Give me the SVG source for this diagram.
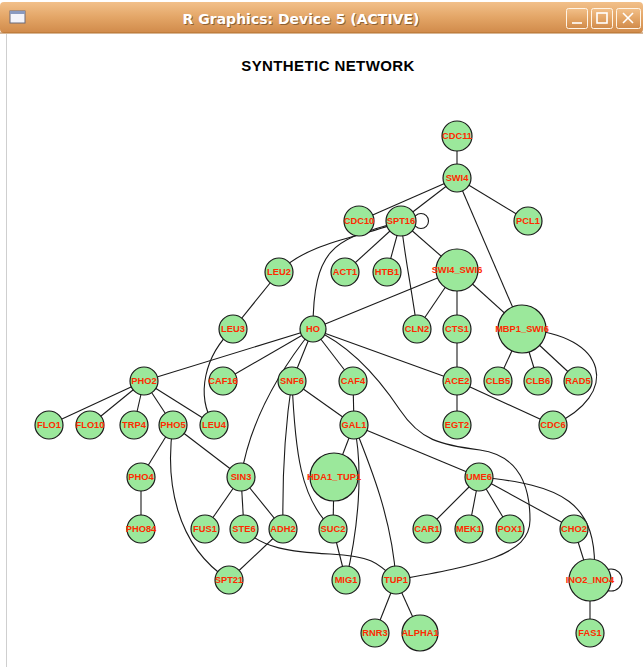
<svg xmlns="http://www.w3.org/2000/svg" width="643" height="667" viewBox="0 0 643 667">
<defs>
<linearGradient id="bar" x1="0" y1="0" x2="0" y2="1">
<stop offset="0" stop-color="#F2C08A"/>
<stop offset="0.5" stop-color="#E3A566"/>
<stop offset="1" stop-color="#D08A4A"/>
</linearGradient>
<style>
.node circle{fill:#9BE89B;stroke:#1a1a1a;stroke-width:1.2}
.node text{font-family:"Liberation Sans",Arial,sans-serif;font-size:9.3px;font-weight:bold;fill:#FF2A00;text-anchor:middle;dominant-baseline:central}
#edges line,#edges path,#edges circle{stroke:#1a1a1a;stroke-width:1.1;fill:none}
.btn{fill:url(#bar);stroke:#FFF4E6;stroke-width:1}
.glyph{stroke:#FFFFFF;stroke-width:1.6;fill:none}
</style>
</defs>
<rect x="0" y="0" width="643" height="667" fill="#FFFFFF"/>
<g id="window-chrome">
<rect x="0" y="2" width="643" height="31" rx="4" fill="url(#bar)"/>
<line x1="0" y1="33" x2="643" y2="33" stroke="#B07030" stroke-width="1"/>
<line x1="6.5" y1="34" x2="6.5" y2="667" stroke="#CFCFCF" stroke-width="1"/>
<rect x="10" y="11" width="15" height="12" fill="#F4F4FA" stroke="#6A6A7A" stroke-width="1"/>
<rect x="10" y="11" width="15" height="3" fill="#8A9AC0"/>
<text x="301" y="24" font-family="'DejaVu Sans',sans-serif" font-weight="bold" font-size="14" fill="#5A3A1A" text-anchor="middle" opacity="0.6" transform="translate(1,1)">R Graphics: Device 5 (ACTIVE)</text>
<text x="301" y="24" font-family="'DejaVu Sans',sans-serif" font-weight="bold" font-size="14" fill="#FFFFFF" text-anchor="middle">R Graphics: Device 5 (ACTIVE)</text>
<rect class="btn" x="566.5" y="8.5" width="21" height="20" rx="2"/>
<line class="glyph" x1="572" y1="23" x2="582" y2="23"/>
<rect class="btn" x="591.5" y="8.5" width="21" height="20" rx="2"/>
<rect class="glyph" x="597" y="13" width="10" height="10"/>
<rect class="btn" x="616.5" y="8.5" width="24" height="20" rx="2"/>
<line class="glyph" x1="623" y1="13" x2="633" y2="23"/>
<line class="glyph" x1="633" y1="13" x2="623" y2="23"/>
</g>
<text x="328" y="71" font-family="'Liberation Sans',Arial,sans-serif" font-weight="bold" font-size="15" letter-spacing="0.4" fill="#000000" text-anchor="middle">SYNTHETIC NETWORK</text>
<g id="edges">
<line x1="457" y1="136" x2="457" y2="178"/>
<line x1="457" y1="178" x2="359" y2="221"/>
<line x1="457" y1="178" x2="401" y2="221"/>
<line x1="457" y1="178" x2="528" y2="221"/>
<line x1="457" y1="178" x2="522" y2="329"/>
<circle cx="421" cy="221" r="7.5"/>
<path d="M401,221 C370,236 310,240 279,272"/>
<path d="M401,221 C340,240 313,240 313,329"/>
<line x1="401" y1="221" x2="345" y2="272"/>
<line x1="401" y1="221" x2="387" y2="272"/>
<path d="M401,221 C405,260 412,290 417,329"/>
<line x1="401" y1="221" x2="457" y2="270"/>
<line x1="457" y1="270" x2="313" y2="329"/>
<line x1="457" y1="270" x2="417" y2="329"/>
<line x1="457" y1="270" x2="457" y2="329"/>
<line x1="457" y1="270" x2="522" y2="329"/>
<line x1="279" y1="272" x2="233" y2="329"/>
<path d="M233,329 C205,355 195,395 214,425"/>
<line x1="313" y1="329" x2="144" y2="381"/>
<line x1="313" y1="329" x2="223" y2="381"/>
<line x1="313" y1="329" x2="292" y2="381"/>
<line x1="313" y1="329" x2="353" y2="381"/>
<line x1="313" y1="329" x2="457" y2="381"/>
<path d="M313,329 C280,370 250,420 241,477"/>
<path d="M313,329 C350,345 380,380 400,410 S440,445 480,450 C515,455 530,480 530,520 C530,555 480,565 396,580"/>
<line x1="457" y1="329" x2="457" y2="381"/>
<line x1="457" y1="381" x2="457" y2="425"/>
<line x1="457" y1="381" x2="553" y2="425"/>
<line x1="522" y1="329" x2="498" y2="381"/>
<line x1="522" y1="329" x2="538" y2="381"/>
<line x1="522" y1="329" x2="578" y2="381"/>
<path d="M522,329 C610,335 620,395 553,425"/>
<line x1="144" y1="381" x2="49" y2="425"/>
<line x1="144" y1="381" x2="90" y2="425"/>
<line x1="144" y1="381" x2="134" y2="425"/>
<line x1="144" y1="381" x2="173" y2="425"/>
<line x1="144" y1="381" x2="214" y2="425"/>
<line x1="292" y1="381" x2="354" y2="425"/>
<path d="M292,381 C286,420 282,470 283,529"/>
<path d="M292,381 C295,450 300,500 333,529"/>
<line x1="353" y1="381" x2="354" y2="425"/>
<line x1="173" y1="425" x2="141" y2="477"/>
<line x1="173" y1="425" x2="241" y2="477"/>
<path d="M173,425 C165,480 175,545 229,580"/>
<line x1="141" y1="477" x2="141" y2="529"/>
<line x1="241" y1="477" x2="205" y2="529"/>
<line x1="241" y1="477" x2="244" y2="529"/>
<line x1="241" y1="477" x2="283" y2="529"/>
<line x1="283" y1="529" x2="229" y2="580"/>
<path d="M244,529 C262,548 290,552 330,554 S378,562 396,580"/>
<line x1="354" y1="425" x2="334" y2="477"/>
<line x1="354" y1="425" x2="479" y2="477"/>
<path d="M354,425 C364,470 358,530 346,580"/>
<path d="M354,425 C372,470 392,520 396,580"/>
<line x1="334" y1="477" x2="333" y2="529"/>
<line x1="333" y1="529" x2="346" y2="580"/>
<line x1="396" y1="580" x2="375" y2="633"/>
<line x1="396" y1="580" x2="420" y2="633"/>
<line x1="479" y1="477" x2="427" y2="529"/>
<line x1="479" y1="477" x2="469" y2="529"/>
<line x1="479" y1="477" x2="510" y2="529"/>
<line x1="479" y1="477" x2="574" y2="529"/>
<path d="M479,477 C560,485 600,500 594,580"/>
<line x1="574" y1="529" x2="590" y2="580"/>
<circle cx="611" cy="580" r="11"/>
<line x1="590" y1="580" x2="590" y2="633"/>
</g>
<g id="CDC11" class="node"><circle cx="457" cy="136" r="15"/><text x="457" y="136">CDC11</text></g>
<g id="SWI4" class="node"><circle cx="457" cy="178" r="14"/><text x="457" y="178">SWI4</text></g>
<g id="CDC10" class="node"><circle cx="359" cy="221" r="15"/><text x="359" y="221">CDC10</text></g>
<g id="SPT16" class="node"><circle cx="401" cy="221" r="15"/><text x="401" y="221">SPT16</text></g>
<g id="PCL1" class="node"><circle cx="528" cy="221" r="14"/><text x="528" y="221">PCL1</text></g>
<g id="LEU2" class="node"><circle cx="279" cy="272" r="14"/><text x="279" y="272">LEU2</text></g>
<g id="ACT1" class="node"><circle cx="345" cy="272" r="14"/><text x="345" y="272">ACT1</text></g>
<g id="HTB1" class="node"><circle cx="387" cy="272" r="14"/><text x="387" y="272">HTB1</text></g>
<g id="SWI4_SWI6" class="node"><circle cx="457" cy="270" r="21"/><text x="457" y="270">SWI4_SWI6</text></g>
<g id="LEU3" class="node"><circle cx="233" cy="329" r="14"/><text x="233" y="329">LEU3</text></g>
<g id="HO" class="node"><circle cx="313" cy="329" r="13"/><text x="313" y="329">HO</text></g>
<g id="CLN2" class="node"><circle cx="417" cy="329" r="14"/><text x="417" y="329">CLN2</text></g>
<g id="CTS1" class="node"><circle cx="457" cy="329" r="14"/><text x="457" y="329">CTS1</text></g>
<g id="MBP1_SWI6" class="node"><circle cx="522" cy="329" r="24"/><text x="522" y="329">MBP1_SWI6</text></g>
<g id="PHO2" class="node"><circle cx="144" cy="381" r="14"/><text x="144" y="381">PHO2</text></g>
<g id="CAF16" class="node"><circle cx="223" cy="381" r="14"/><text x="223" y="381">CAF16</text></g>
<g id="SNF6" class="node"><circle cx="292" cy="381" r="14"/><text x="292" y="381">SNF6</text></g>
<g id="CAF4" class="node"><circle cx="353" cy="381" r="14"/><text x="353" y="381">CAF4</text></g>
<g id="ACE2" class="node"><circle cx="457" cy="381" r="14"/><text x="457" y="381">ACE2</text></g>
<g id="CLB5" class="node"><circle cx="498" cy="381" r="14"/><text x="498" y="381">CLB5</text></g>
<g id="CLB6" class="node"><circle cx="538" cy="381" r="14"/><text x="538" y="381">CLB6</text></g>
<g id="RAD5" class="node"><circle cx="578" cy="381" r="14"/><text x="578" y="381">RAD5</text></g>
<g id="FLO1" class="node"><circle cx="49" cy="425" r="14"/><text x="49" y="425">FLO1</text></g>
<g id="FLO10" class="node"><circle cx="90" cy="425" r="14"/><text x="90" y="425">FLO10</text></g>
<g id="TRP4" class="node"><circle cx="134" cy="425" r="14"/><text x="134" y="425">TRP4</text></g>
<g id="PHO5" class="node"><circle cx="173" cy="425" r="14"/><text x="173" y="425">PHO5</text></g>
<g id="LEU4" class="node"><circle cx="214" cy="425" r="14"/><text x="214" y="425">LEU4</text></g>
<g id="GAL1" class="node"><circle cx="354" cy="425" r="14"/><text x="354" y="425">GAL1</text></g>
<g id="EGT2" class="node"><circle cx="457" cy="425" r="14"/><text x="457" y="425">EGT2</text></g>
<g id="CDC6" class="node"><circle cx="553" cy="425" r="14"/><text x="553" y="425">CDC6</text></g>
<g id="PHO4" class="node"><circle cx="141" cy="477" r="14"/><text x="141" y="477">PHO4</text></g>
<g id="SIN3" class="node"><circle cx="241" cy="477" r="14"/><text x="241" y="477">SIN3</text></g>
<g id="HDA1_TUP1" class="node"><circle cx="334" cy="477" r="24"/><text x="334" y="477">HDA1_TUP1</text></g>
<g id="UME6" class="node"><circle cx="479" cy="477" r="14"/><text x="479" y="477">UME6</text></g>
<g id="PHO84" class="node"><circle cx="141" cy="529" r="14"/><text x="141" y="529">PHO84</text></g>
<g id="FUS1" class="node"><circle cx="205" cy="529" r="14"/><text x="205" y="529">FUS1</text></g>
<g id="STE6" class="node"><circle cx="244" cy="529" r="14"/><text x="244" y="529">STE6</text></g>
<g id="ADH2" class="node"><circle cx="283" cy="529" r="14"/><text x="283" y="529">ADH2</text></g>
<g id="SUC2" class="node"><circle cx="333" cy="529" r="14"/><text x="333" y="529">SUC2</text></g>
<g id="CAR1" class="node"><circle cx="427" cy="529" r="14"/><text x="427" y="529">CAR1</text></g>
<g id="MEK1" class="node"><circle cx="469" cy="529" r="14"/><text x="469" y="529">MEK1</text></g>
<g id="POX1" class="node"><circle cx="510" cy="529" r="14"/><text x="510" y="529">POX1</text></g>
<g id="CHO2" class="node"><circle cx="574" cy="529" r="14"/><text x="574" y="529">CHO2</text></g>
<g id="SPT21" class="node"><circle cx="229" cy="580" r="14"/><text x="229" y="580">SPT21</text></g>
<g id="MIG1" class="node"><circle cx="346" cy="580" r="14"/><text x="346" y="580">MIG1</text></g>
<g id="TUP1" class="node"><circle cx="396" cy="580" r="14"/><text x="396" y="580">TUP1</text></g>
<g id="INO2_INO4" class="node"><circle cx="590" cy="580" r="21"/><text x="590" y="580">INO2_INO4</text></g>
<g id="RNR3" class="node"><circle cx="375" cy="633" r="14"/><text x="375" y="633">RNR3</text></g>
<g id="ALPHA1" class="node"><circle cx="420" cy="633" r="18"/><text x="420" y="633">ALPHA1</text></g>
<g id="FAS1" class="node"><circle cx="590" cy="633" r="14"/><text x="590" y="633">FAS1</text></g>
</svg>
